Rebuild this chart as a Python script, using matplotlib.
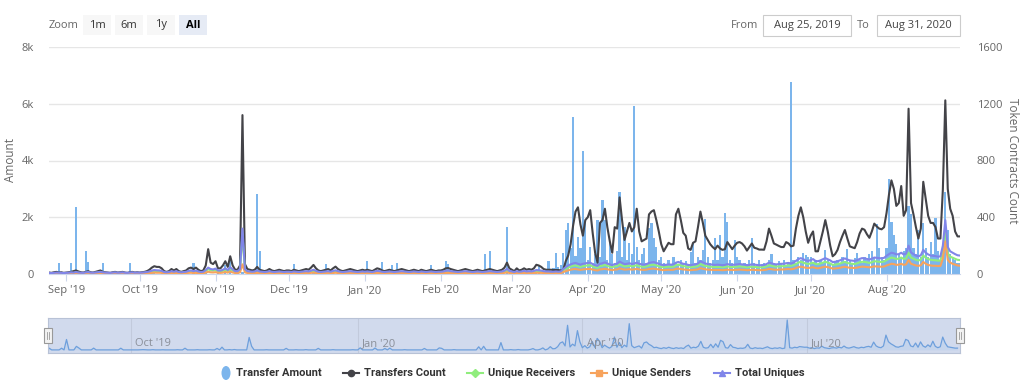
import pandas as pd
import matplotlib
matplotlib.use("Agg")
import matplotlib.pyplot as plt
from matplotlib.patches import Rectangle, Ellipse
from matplotlib.lines import Line2D

W, H = 1024, 386
FONT = ["Open Sans", "DejaVu Sans"]
LEGEND_FONT = ["Roboto", "DejaVu Sans"]

days = pd.date_range("2019-08-25", "2020-08-31", freq="D")

# Transfer Amount (left axis), one value per day, month by month
amount = (
    [0, 0, 0, 0, 380, 0, 0]  # Aug 19
    + [0, 0, 380, 0, 2350, 0, 0, 0, 800, 430, 0, 0, 0, 0, 0, 400, 0, 0, 0, 0,
       0, 0, 0, 0, 0, 0, 380, 0, 0, 0]  # Sep
    + [0, 0, 0, 0, 40, 60, 30, 0, 0, 50, 0, 0, 0, 30, 0, 0, 0, 0, 0, 40,
       0, 0, 380, 0, 0, 0, 0, 50, 0, 0, 0]  # Oct
    + [0, 40, 0, 0, 330, 0, 620, 0, 0, 60, 0, 80, 0, 0, 0, 0, 0, 2820, 820, 0,
       0, 0, 0, 0, 40, 0, 0, 0, 0, 0]  # Nov
    + [0, 0, 350, 0, 0, 0, 40, 0, 0, 0, 60, 0, 0, 0, 0, 350, 0, 0, 0, 0,
       0, 50, 0, 0, 0, 0, 0, 0, 0, 40, 0]  # Dec
    + [0, 470, 0, 0, 0, 0, 0, 420, 0, 0, 0, 320, 0, 400, 0, 0, 0, 0, 0, 50,
       0, 0, 0, 0, 0, 0, 0, 330, 0, 0, 0]  # Jan 20
    + [0, 0, 450, 350, 0, 0, 0, 0, 60, 0, 0, 0, 0, 0, 0, 0, 0, 0, 700, 0,
       810, 0, 0, 0, 0, 0, 0, 1650, 0]  # Feb
    + [0, 0, 60, 0, 0, 80, 0, 0, 0, 0, 100, 300, 0, 0, 150, 450, 0, 200, 730, 250,
       300, 730, 1550, 1810, 900, 5550, 650, 1300, 900, 4350, 1800]  # Mar
    + [500, 960, 400, 700, 1900, 600, 2600, 1900, 500, 1080, 700, 400, 800, 2900, 600,
       1670, 500, 1080, 700, 5920, 960, 500, 700, 900, 400, 1610, 1790, 1260, 960, 500]  # Apr
    + [600, 400, 300, 500, 350, 600, 400, 300, 500, 350, 450, 300, 790, 1080, 400, 600,
       500, 850, 1930, 600, 400, 500, 1260, 500, 1380, 600, 2160, 1850, 500, 400, 1200]  # May
    + [600, 500, 300, 400, 350, 500, 1260, 400, 300, 500, 350, 400, 300, 500, 700,
       400, 300, 450, 350, 500, 300, 400, 6750, 500, 400, 600, 500, 750, 670, 600]  # Jun
    + [610, 400, 500, 300, 450, 400, 850, 500, 400, 300, 450, 500, 400, 600, 450, 870,
       500, 400, 550, 730, 500, 400, 600, 500, 700, 800, 600, 1760, 900, 600, 500]  # Jul
    + [900, 3340, 1850, 1380, 1060, 700, 600, 800, 900, 2380, 2120, 900, 700, 1550, 600,
       1810, 900, 600, 1140, 700, 1960, 800, 500, 700, 2900, 1550, 700, 600, 500, 400, 400]  # Aug
)

# Transfers Count (right axis)
count = (
    [10, 8, 12, 15, 10, 12, 8]
    + [10, 12, 15, 20, 25, 18, 12, 10, 15, 20, 12, 10, 15, 20, 25, 15, 12, 10, 8, 12,
       15, 10, 12, 15, 10, 8, 12, 15, 10, 12]
    + [10, 12, 15, 20, 30, 45, 55, 50, 50, 40, 20, 15, 20, 35, 25, 35, 20, 15, 20, 25,
       40, 45, 35, 45, 30, 20, 25, 60, 175, 80, 70]
    + [90, 40, 40, 60, 90, 50, 125, 60, 30, 30, 60, 1120, 70, 35, 30, 25, 30, 50, 30, 25,
       20, 25, 35, 25, 20, 25, 30, 25, 20, 25]
    + [25, 20, 30, 25, 20, 25, 30, 35, 30, 45, 64, 40, 25, 20, 25, 30, 35, 25, 40, 52,
       35, 25, 20, 25, 30, 35, 30, 25, 20, 25, 30]
    + [25, 30, 25, 20, 30, 40, 35, 25, 20, 25, 30, 25, 20, 25, 30, 35, 30, 25, 20, 25,
       30, 25, 20, 30, 25, 20, 25, 30, 25, 20, 25]
    + [25, 30, 40, 42, 35, 30, 25, 20, 25, 30, 35, 30, 25, 20, 25, 30, 25, 20, 25, 30,
       35, 30, 25, 20, 25, 30, 45, 80, 40]
    + [30, 20, 40, 25, 30, 40, 30, 35, 30, 40, 65, 60, 50, 35, 30, 30, 30, 28, 28, 28,
       25, 30, 90, 130, 210, 340, 440, 470, 350, 270, 380]
    + [400, 450, 290, 150, 80, 360, 380, 460, 330, 230, 150, 330, 320, 540, 380, 240,
       300, 360, 300, 330, 460, 300, 230, 240, 250, 420, 440, 450, 380, 300]
    + [210, 160, 190, 220, 210, 210, 420, 460, 380, 290, 270, 180, 170, 220, 230, 330,
       440, 360, 270, 240, 210, 190, 175, 200, 180, 170, 175, 225, 200, 175, 200]
    + [220, 225, 215, 195, 165, 190, 215, 185, 180, 172, 172, 171, 230, 320, 270, 215,
       207, 198, 190, 190, 225, 215, 195, 200, 320, 410, 470, 400, 300, 220]
    + [270, 300, 160, 160, 230, 300, 380, 300, 200, 125, 140, 170, 225, 270, 310, 250,
       195, 188, 182, 225, 285, 320, 312, 280, 255, 300, 355, 335, 320, 315, 330]
    + [430, 560, 660, 600, 480, 500, 620, 410, 450, 1165, 500, 420, 330, 250, 320, 650,
       530, 410, 360, 360, 330, 250, 250, 596, 1224, 600, 460, 410, 300, 265, 265]
)

# Unique Receivers
receivers = (
    [5, 4, 5, 7, 6, 5, 5]
    + [5, 6, 8, 7, 10, 8, 6, 5, 8, 10, 7, 6, 8, 9, 11, 8, 7, 6, 5, 7,
       8, 6, 7, 8, 6, 5, 7, 8, 6, 7]
    + [6, 7, 8, 10, 13, 18, 21, 19, 18, 16, 10, 8, 10, 14, 11, 14, 10, 8, 10, 11,
       16, 18, 14, 17, 13, 10, 11, 20, 34, 26, 24]
    + [28, 18, 17, 22, 30, 20, 36, 24, 14, 14, 26, 280, 26, 14, 12, 11, 12, 18, 12, 11,
       10, 11, 14, 11, 10, 11, 12, 11, 10, 11]
    + [11, 10, 12, 11, 10, 11, 12, 14, 12, 17, 22, 16, 11, 10, 11, 12, 14, 11, 16, 19,
       14, 11, 10, 11, 12, 14, 12, 11, 10, 11, 12]
    + [11, 12, 11, 10, 12, 16, 14, 11, 10, 11, 12, 11, 10, 11, 12, 14, 12, 11, 10, 11,
       12, 11, 10, 12, 11, 10, 11, 12, 11, 10, 11]
    + [11, 12, 16, 17, 14, 12, 11, 10, 11, 12, 14, 12, 11, 10, 11, 12, 11, 10, 11, 12,
       14, 12, 11, 10, 11, 12, 17, 26, 16]
    + [12, 10, 14, 11, 12, 16, 12, 14, 12, 16, 20, 18, 17, 14, 12, 12, 11, 11, 12, 11,
       12, 26, 36, 46, 52, 58, 60, 55, 50, 55, 58]
    + [60, 62, 54, 48, 44, 56, 58, 64, 57, 52, 48, 54, 56, 68, 60, 54, 55, 58, 54, 57,
       62, 55, 52, 50, 54, 60, 64, 65, 60, 55]
    + [50, 47, 50, 52, 50, 52, 62, 66, 60, 55, 54, 49, 47, 50, 52, 57, 70, 63, 57, 54,
       52, 50, 49, 50, 49, 47, 49, 54, 50, 49, 50]
    + [52, 54, 52, 50, 47, 49, 52, 50, 49, 47, 47, 49, 54, 62, 58, 54, 52, 54, 55, 55,
       58, 60, 57, 62, 70, 80, 86, 80, 74, 70]
    + [75, 80, 70, 69, 74, 80, 86, 80, 74, 64, 66, 69, 74, 80, 85, 78, 74, 72, 70, 75,
       82, 86, 85, 82, 78, 83, 90, 88, 86, 85, 88]
    + [98, 108, 116, 112, 106, 108, 116, 106, 110, 150, 116, 108, 100, 95, 101, 130,
       115, 106, 100, 98, 97, 94, 95, 160, 290, 145, 122, 115, 107, 100, 98]
)

# Unique Senders
senders = (
    [3, 2, 3, 4, 3, 3, 2]
    + [3, 3, 4, 4, 5, 4, 3, 3, 4, 5, 4, 3, 4, 4, 5, 4, 3, 3, 3, 3,
       4, 3, 3, 4, 3, 3, 3, 4, 3, 3]
    + [3, 3, 4, 5, 6, 8, 10, 9, 9, 8, 5, 4, 5, 7, 5, 7, 5, 4, 5, 5,
       8, 9, 7, 8, 6, 5, 5, 10, 16, 12, 11]
    + [13, 9, 8, 10, 14, 10, 17, 11, 7, 7, 12, 68, 12, 7, 6, 5, 6, 8, 6, 5,
       5, 5, 7, 5, 5, 5, 6, 5, 5, 5]
    + [5, 5, 6, 5, 5, 5, 6, 7, 6, 8, 10, 7, 5, 5, 5, 6, 7, 5, 7, 9,
       7, 5, 5, 5, 6, 7, 6, 5, 5, 5, 6]
    + [5, 6, 5, 5, 6, 7, 7, 5, 5, 5, 6, 5, 5, 5, 6, 7, 6, 5, 5, 5,
       6, 5, 5, 6, 5, 5, 5, 6, 5, 5, 5]
    + [5, 6, 7, 8, 7, 6, 5, 5, 5, 6, 7, 6, 5, 5, 5, 6, 5, 5, 5, 6,
       7, 6, 5, 5, 5, 6, 8, 12, 7]
    + [6, 5, 7, 5, 6, 7, 6, 7, 6, 7, 9, 8, 8, 7, 6, 6, 5, 5, 6, 5,
       6, 14, 20, 26, 30, 34, 35, 32, 29, 32, 34]
    + [35, 36, 31, 27, 25, 32, 34, 37, 33, 30, 27, 31, 32, 40, 35, 31, 32, 34, 31, 33,
       36, 32, 30, 29, 31, 35, 37, 38, 35, 32]
    + [29, 27, 29, 30, 29, 30, 36, 38, 35, 32, 31, 28, 27, 29, 30, 33, 41, 37, 33, 31,
       30, 29, 28, 29, 28, 27, 28, 31, 29, 28, 29]
    + [30, 31, 30, 29, 27, 28, 30, 29, 28, 27, 27, 28, 31, 36, 34, 31, 30, 31, 32, 32,
       34, 35, 33, 36, 42, 48, 52, 48, 44, 42]
    + [45, 48, 42, 40, 44, 48, 52, 48, 44, 38, 39, 41, 44, 48, 51, 47, 44, 43, 42, 45,
       49, 52, 51, 49, 47, 50, 54, 53, 52, 51, 53]
    + [60, 66, 72, 70, 64, 66, 72, 64, 68, 100, 72, 66, 60, 57, 62, 85, 72, 64, 60, 58,
       58, 56, 57, 110, 230, 100, 80, 72, 66, 60, 58]
)

# Total Uniques
uniques = (
    [8, 6, 8, 10, 9, 8, 7]
    + [8, 9, 12, 10, 14, 11, 9, 8, 12, 14, 10, 9, 11, 13, 15, 12, 10, 9, 8, 10,
       12, 9, 10, 12, 9, 8, 10, 12, 9, 10]
    + [9, 10, 12, 14, 18, 24, 28, 26, 25, 22, 14, 12, 14, 20, 16, 20, 14, 12, 14, 16,
       22, 25, 20, 24, 18, 14, 16, 28, 45, 35, 32]
    + [38, 25, 24, 30, 40, 28, 48, 32, 20, 20, 35, 320, 35, 20, 18, 16, 18, 25, 18, 16,
       14, 16, 20, 16, 14, 16, 18, 16, 14, 16]
    + [16, 14, 18, 16, 14, 16, 18, 20, 18, 24, 30, 22, 16, 14, 16, 18, 20, 16, 22, 26,
       20, 16, 14, 16, 18, 20, 18, 16, 14, 16, 18]
    + [16, 18, 16, 14, 18, 22, 20, 16, 14, 16, 18, 16, 14, 16, 18, 20, 18, 16, 14, 16,
       18, 16, 14, 18, 16, 14, 16, 18, 16, 14, 16]
    + [16, 18, 22, 24, 20, 18, 16, 14, 16, 18, 20, 18, 16, 14, 16, 18, 16, 14, 16, 18,
       20, 18, 16, 14, 16, 18, 24, 36, 22]
    + [18, 14, 20, 16, 18, 22, 18, 20, 18, 22, 28, 26, 24, 20, 18, 18, 16, 16, 18, 16,
       18, 35, 48, 60, 68, 74, 78, 72, 66, 72, 75]
    + [78, 80, 70, 62, 58, 72, 76, 82, 74, 68, 62, 70, 72, 88, 78, 70, 72, 76, 70, 74,
       80, 72, 68, 66, 70, 78, 82, 84, 78, 72]
    + [66, 62, 65, 68, 66, 68, 80, 85, 78, 72, 70, 64, 62, 66, 68, 74, 90, 82, 74, 70,
       68, 66, 64, 66, 64, 62, 64, 70, 66, 64, 66]
    + [68, 70, 68, 66, 62, 64, 68, 66, 64, 62, 62, 64, 70, 80, 76, 70, 68, 70, 72, 72,
       76, 78, 74, 80, 92, 105, 112, 104, 96, 92]
    + [98, 105, 92, 90, 96, 104, 112, 104, 96, 84, 86, 90, 96, 104, 110, 102, 96, 94, 92, 98,
       106, 112, 110, 106, 102, 108, 116, 114, 112, 110, 114]
    + [128, 140, 150, 146, 138, 140, 150, 138, 144, 200, 152, 140, 130, 124, 132, 170,
       150, 138, 130, 128, 126, 122, 124, 200, 380, 190, 160, 150, 140, 132, 130]
)

left_ticks = [0, 2000, 4000, 6000, 8000]
left_labels = ["0", "2k", "4k", "6k", "8k"]
right_ticks = [0, 400, 800, 1200, 1600]
month_ticks = pd.date_range("2019-09-01", "2020-08-01", freq="MS")
nav_ticks = pd.to_datetime(["2019-10-01", "2020-01-01", "2020-04-01", "2020-07-01"])

series = [
    ("Transfers Count", count, "#434348", "o"),
    ("Unique Receivers", receivers, "#90ed7d", "D"),
    ("Unique Senders", senders, "#f7a35c", "s"),
    ("Total Uniques", uniques, "#8085e9", "^"),
]
BAR_COLOR = "#7cb5ec"


def fx(x):
    return x / W


def fy(y):
    return 1 - y / H


fig = plt.figure(figsize=(W / 100, H / 100), dpi=100)

# main chart
ax = fig.add_axes([fx(49), fy(274), fx(960) - fx(49), fy(47) - fy(274)])
ax.bar(days, amount, width=0.9, color=BAR_COLOR, linewidth=0, zorder=2)
ax.set_ylim(0, 8000)
ax.set_yticks(left_ticks)
ax.set_yticklabels(left_labels)
ax.set_xlim(days[0], days[-1])
ax.grid(axis="y", color="#e6e6e6", linewidth=1)
ax.set_axisbelow(True)
for s in ["top", "left", "right"]:
    ax.spines[s].set_visible(False)
ax.spines["bottom"].set_color("#ccd6eb")
ax.set_xticks(month_ticks)
ax.set_xticklabels([d.strftime("%b '%y") for d in month_ticks])
ax.tick_params(axis="x", length=5, color="#ccd6eb", pad=3, labelsize=8, labelcolor="#666666")
ax.tick_params(axis="y", length=0, pad=11, labelsize=8, labelcolor="#666666")
ax.set_ylabel("Amount", color="#666666", fontsize=8.5, labelpad=3, family=FONT)

ax2 = ax.twinx()
for name, vals, color, _ in series:
    ax2.plot(days, vals, color=color, linewidth=1.5, solid_joinstyle="round")
ax2.set_ylim(0, 1600)
ax2.set_yticks(right_ticks)
for s in ["top", "left", "right", "bottom"]:
    ax2.spines[s].set_visible(False)
ax2.tick_params(axis="y", length=0, pad=12, labelsize=8, labelcolor="#666666")
ax2.set_ylabel("Token Contracts Count", color="#666666", fontsize=8.5,
               rotation=270, labelpad=12, family=FONT)

for lab in ax.get_xticklabels() + ax.get_yticklabels() + ax2.get_yticklabels():
    lab.set_family(FONT)

# navigator
nav = fig.add_axes([fx(48), fy(353), fx(960) - fx(48), fy(318) - fy(353)])
nav.set_facecolor("#d1daed")
nav.fill_between(days, amount, color=BAR_COLOR, alpha=0.15, linewidth=0)
nav.plot(days, amount, color="#6d9fdc", linewidth=0.9)
nav.set_xlim(pd.Timestamp("2019-08-28 12:00"), pd.Timestamp("2020-09-01"))
nav.set_ylim(-700, 7200)
nav.set_xticks([])
nav.set_yticks([])
for s in nav.spines.values():
    s.set_color("#b8c2d6")
    s.set_linewidth(0.8)
for d in nav_ticks:
    nav.axvline(d, color="#c2cadc", linewidth=0.8, zorder=0)
    nav.annotate(d.strftime("%b '%y"), (d, 0), xycoords=("data", "axes fraction"),
                 xytext=(3, 3), textcoords="offset points", fontsize=8,
                 color="#8a8f99", family=FONT, va="bottom", ha="left")

for hx in (48, 960):
    fig.patches.append(Rectangle((fx(hx - 4), fy(343)), fx(8), fy(328) - fy(343),
                                 transform=fig.transFigure, facecolor="#f2f2f2",
                                 edgecolor="#999999", linewidth=0.8, zorder=5))
    for dx in (-1, 1):
        fig.lines.append(Line2D([fx(hx + dx), fx(hx + dx)], [fy(339), fy(332)],
                                transform=fig.transFigure, color="#999999",
                                linewidth=0.6, zorder=6))

# range selector
fig.text(fx(49), fy(25), "Zoom", fontsize=8, color="#666666", va="center", family=FONT)
buttons = [("1m", 83), ("6m", 115), ("1y", 147), ("All", 179)]
for label, bx in buttons:
    sel = label == "All"
    fig.patches.append(Rectangle((fx(bx), fy(35)), fx(28), fy(15) - fy(35),
                                 transform=fig.transFigure, linewidth=0,
                                 facecolor="#e6ebf5" if sel else "#f7f7f7"))
    fig.text(fx(bx + 14), fy(25), label, fontsize=8, ha="center", va="center",
             color="#000000" if sel else "#333333",
             fontweight="bold" if sel else "normal", family=FONT)

fig.text(fx(758), fy(25), "From", fontsize=8, color="#666666", ha="right", va="center", family=FONT)
fig.text(fx(870), fy(25), "To", fontsize=8, color="#666666", ha="right", va="center", family=FONT)
for x0, x1, label in [(763, 851, "Aug 25, 2019"), (877, 960, "Aug 31, 2020")]:
    fig.patches.append(Rectangle((fx(x0), fy(36)), fx(x1 - x0), fy(15) - fy(36),
                                 transform=fig.transFigure, facecolor="white",
                                 edgecolor="#cccccc", linewidth=0.8))
    fig.text(fx((x0 + x1) / 2), fy(25.5), label, fontsize=8, color="#444444",
             ha="center", va="center", family=FONT)

# legend
ly = fy(373)
fig.patches.append(Ellipse((fx(226), ly), fx(9), fy(366) - fy(380),
                           transform=fig.transFigure, facecolor=BAR_COLOR, edgecolor="none"))
fig.text(fx(236), ly, "Transfer Amount", fontsize=8, fontweight="bold", color="#333333",
         va="center", family=LEGEND_FONT)
legend_x = [343, 467, 591, 714]
for (name, _, color, marker), lx in zip(series, legend_x):
    fig.lines.append(Line2D([fx(lx), fx(lx + 16)], [ly, ly], transform=fig.transFigure,
                            color=color, linewidth=1.5))
    fig.lines.append(Line2D([fx(lx + 8)], [ly], transform=fig.transFigure, color=color,
                            marker=marker, markersize=4.5, linewidth=0))
    fig.text(fx(lx + 21), ly, name, fontsize=8, fontweight="bold", color="#333333",
             va="center", family=LEGEND_FONT)

fig.savefig("out.png", dpi=100)
